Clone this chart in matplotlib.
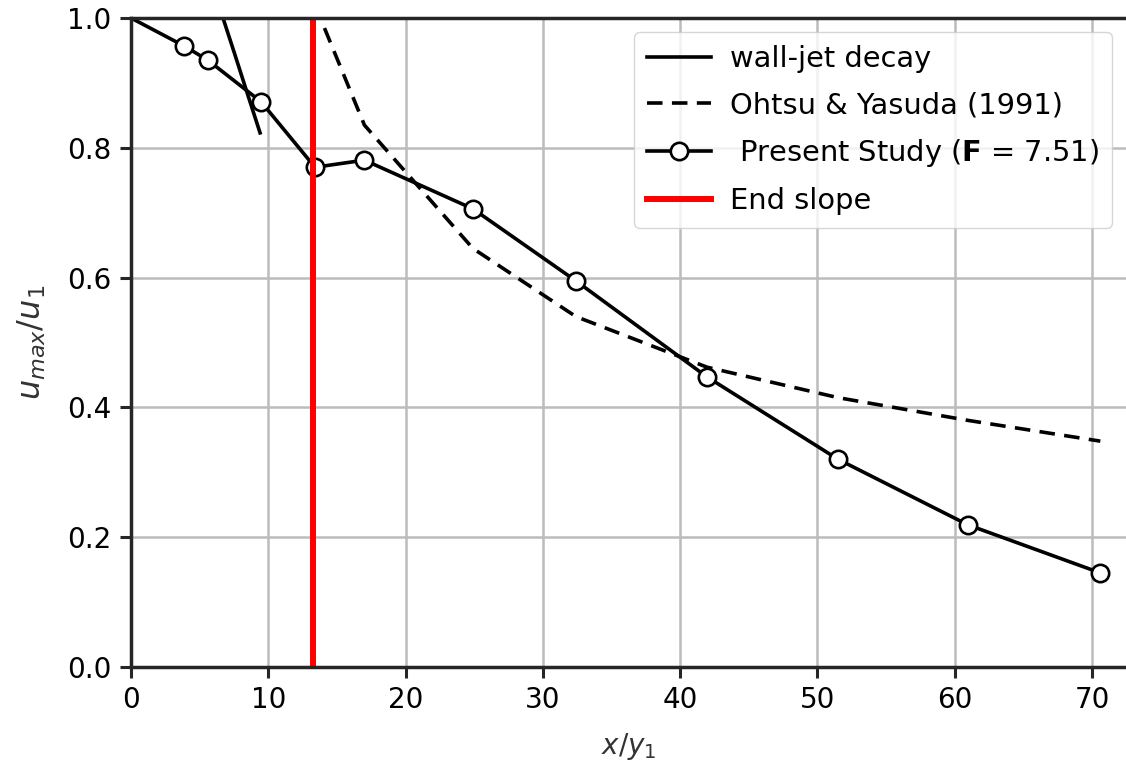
import matplotlib
matplotlib.use("Agg")
import matplotlib.pyplot as plt

# Present study (F = 7.51)
x_present = [0.0, 3.86, 5.6, 9.47, 13.4, 17.0, 24.9, 32.4, 41.95, 51.5, 60.96, 70.6]
u_present = [1.0, 0.957, 0.935, 0.871, 0.770, 0.781, 0.706, 0.595, 0.447, 0.320, 0.219, 0.145]

# Ohtsu & Yasuda (1991)
x_ohtsu = [13.4, 17.0, 24.9, 32.4, 41.95, 51.5, 60.96, 70.6]
u_ohtsu = [1.02, 0.835, 0.645, 0.54, 0.462, 0.415, 0.38, 0.348]

# wall-jet decay
x_wall = [6.5, 7.5, 8.5, 9.4]
u_wall = [1.013, 0.948, 0.882, 0.823]

x_end = 13.25

fig = plt.figure(figsize=(11.26, 7.71), dpi=100)
ax = fig.add_axes([131 / 1126, 104 / 771, (1126 - 131) / 1126, 649 / 771])

ax.plot(x_wall, u_wall, color="k", lw=2.6, label="wall-jet decay")
ax.plot(x_ohtsu, u_ohtsu, color="k", lw=2.6, ls=(0, (4.3, 2.6)),
        label="Ohtsu & Yasuda (1991)")
# first point has no marker (it sits on the corner)
ax.plot(x_present[:2], u_present[:2], color="k", lw=2.6)
ax.plot(x_present[1:], u_present[1:], color="k", lw=2.6, marker="o", ms=12.5,
        mfc="white", mec="k", mew=1.9,
        label=r" Present Study ($\mathbf{F}$ = 7.51)")
ax.axvline(x_end, color="red", lw=4.3, label="End slope")

ax.set_xlim(0, 72.47)
ax.set_ylim(0, 1.0)
ax.set_xticks(range(0, 71, 10))
ax.set_yticks([0.0, 0.2, 0.4, 0.6, 0.8, 1.0])
ax.grid(True, color="#bcbcbc", lw=1.8)
ax.set_axisbelow(True)
ax.tick_params(labelsize=20, length=8, width=2.2, color="#262626", pad=6)
for side in ["left", "bottom", "top"]:
    ax.spines[side].set_linewidth(2.5)
    ax.spines[side].set_color("#262626")
ax.spines["right"].set_visible(False)

ax.set_xlabel(r"$x/y_1$", fontsize=20, color="#333333", labelpad=12)
ax.set_ylabel(r"$u_{max}/u_1$", fontsize=23, color="#333333", labelpad=14)

ax.legend(loc="upper right", fontsize=20.8, framealpha=0.8, handlelength=2.2,
          handletextpad=0.65, labelspacing=0.62, borderpad=0.45)

fig.savefig("out.png", dpi=100)
